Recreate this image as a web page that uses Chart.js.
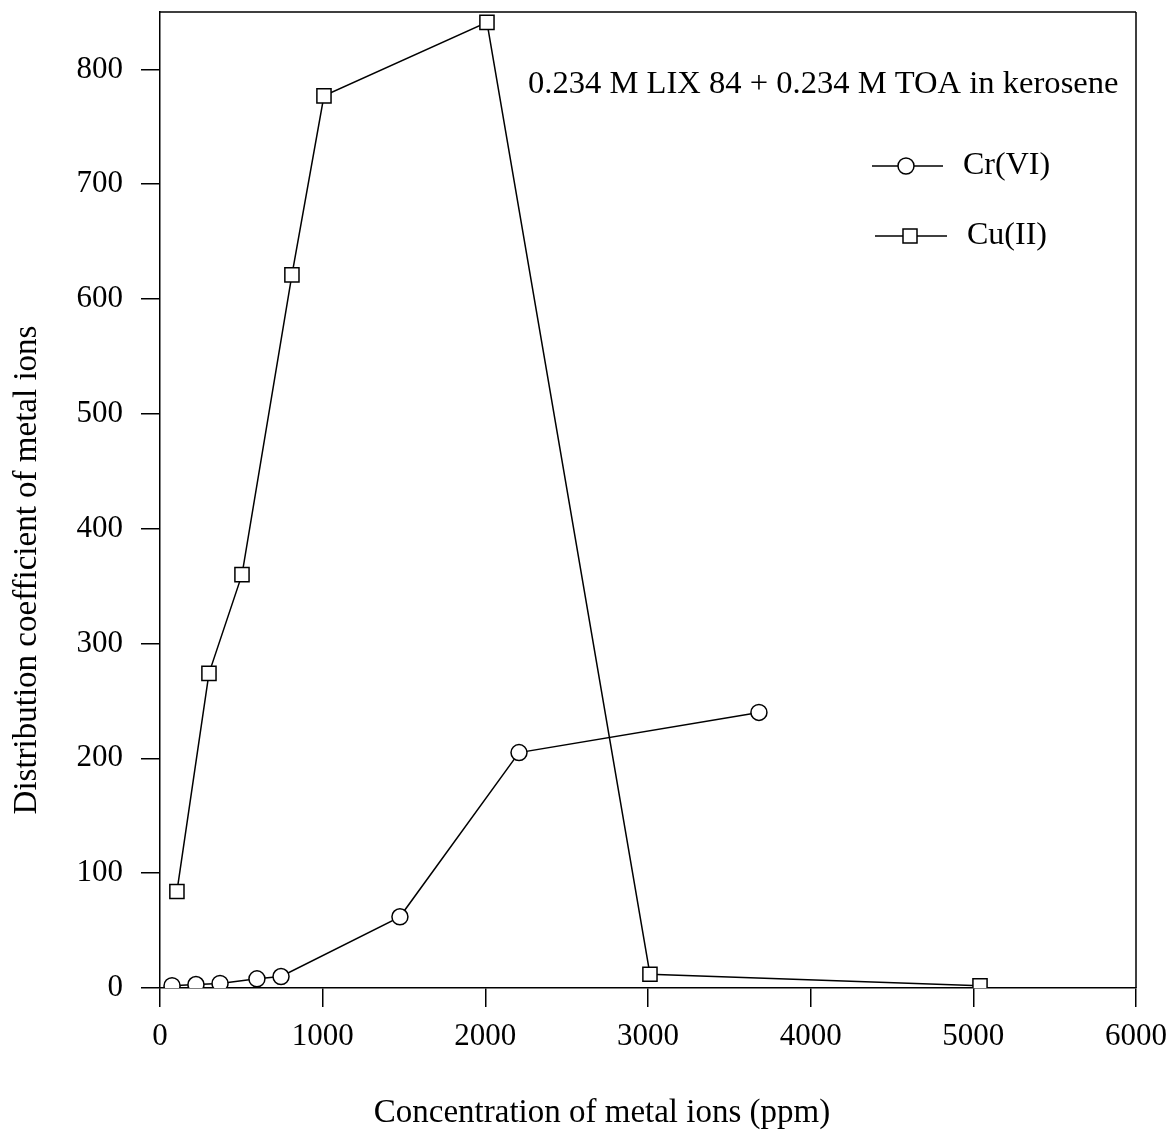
<!DOCTYPE html>
<html><head><meta charset="utf-8">
<script src="https://cdn.jsdelivr.net/npm/chart.js@4"></script>
<style>html,body{margin:0;padding:0;background:#fff}#wrap{width:1174px;height:1136px}</style>
</head><body><div id="wrap"><canvas id="c" width="1174" height="1136"></canvas></div>
<script>
// Data
const crLabel = 'Cr(VI)';
const cuLabel = 'Cu(II)';
const crX = [74, 221, 369, 596, 744, 1475, 2207, 3682];
const crY = [2, 3, 4, 8, 10, 62, 205, 240];
const cuX = [104, 301, 504, 811, 1008, 2010, 3012, 5041];
const cuY = [84, 274, 360, 621, 777, 841, 12, 2];
const xTicks = [0, 1000, 2000, 3000, 4000, 5000, 6000];
const yTicks = [0, 100, 200, 300, 400, 500, 600, 700, 800];
const xTitle = 'Concentration of metal ions (ppm)';
const yTitle = 'Distribution coefficient of metal ions';
const noteText = '0.234 M LIX 84 + 0.234 M TOA in kerosene';

const FONT = '"Liberation Serif", "Times New Roman", serif';

const decor = {
  id: 'decor',
  afterDraw(chart) {
    const ctx = chart.ctx, a = chart.chartArea;
    ctx.save();
    ctx.strokeStyle = '#000';
    ctx.lineWidth = 1.5;
    ctx.beginPath();
    ctx.moveTo(a.left, a.top); ctx.lineTo(a.right, a.top);
    ctx.moveTo(a.right, a.top); ctx.lineTo(a.right, a.bottom);
    ctx.stroke();

    ctx.fillStyle = '#000';
    ctx.font = '32.6px ' + FONT;
    ctx.textBaseline = 'middle';
    ctx.textAlign = 'left';
    ctx.fillText(noteText, 528, 84);

    // legend
    const items = [
      {label: crLabel, y: 166, x0: 872, x1: 943, mx: 906, tx: 963, shape: 'circle'},
      {label: cuLabel, y: 236, x0: 875, x1: 947, mx: 910, tx: 967, shape: 'rect'}
    ];
    ctx.font = '32px ' + FONT;
    items.forEach(it => {
      ctx.beginPath();
      ctx.moveTo(it.x0, it.y); ctx.lineTo(it.x1, it.y);
      ctx.stroke();
      ctx.beginPath();
      if (it.shape === 'circle') ctx.arc(it.mx, it.y, 8, 0, Math.PI * 2);
      else ctx.rect(it.mx - 7, it.y - 7, 14, 14);
      ctx.fillStyle = '#fff'; ctx.fill();
      ctx.stroke();
      ctx.fillStyle = '#000';
      ctx.fillText(it.label, it.tx, it.y);
    });

    // axis titles
    ctx.font = '33px ' + FONT;
    ctx.textAlign = 'center';
    ctx.fillText(xTitle, 602, 1113);
    ctx.save();
    ctx.translate(27, 570);
    ctx.rotate(-Math.PI / 2);
    ctx.fillText(yTitle, 0, 0);
    ctx.restore();
    ctx.restore();
  }
};

const lineDs = (label, xs, ys, style, r) => ({
  label,
  data: xs.map((x, i) => ({x, y: ys[i]})),
  borderColor: '#000',
  borderWidth: 1.5,
  backgroundColor: '#fff',
  pointBackgroundColor: '#fff',
  pointBorderColor: '#000',
  pointBorderWidth: 1.5,
  pointStyle: style,
  pointRadius: r,
  pointHoverRadius: r,
  tension: 0,
  fill: false
});

new Chart(document.getElementById('c'), {
  type: 'line',
  data: {
    datasets: [
      lineDs(cuLabel, cuX, cuY, 'rect', 10),
      lineDs(crLabel, crX, crY, 'circle', 8)
    ]
  },
  options: {
    responsive: false,
    animation: false,
    layout: {padding: {top: 12, right: 38, left: 0, bottom: 0}},
    plugins: {legend: {display: false}, tooltip: {enabled: false}},
    scales: {
      x: {
        type: 'linear', min: 0, max: 6000,
        afterBuildTicks: s => { s.ticks = xTicks.map(v => ({value: v})); },
        afterFit: s => { s.height = 148; s.paddingLeft = 0; s.paddingRight = 0; },
        grid: {display: true, drawOnChartArea: false, drawTicks: true, tickLength: 19, color: '#000', lineWidth: 1.5},
        border: {display: true, color: '#000', width: 1.5},
        ticks: {color: '#000', font: {family: FONT, size: 31}, padding: 11, maxRotation: 0, autoSkip: false,
                callback: v => String(v)}
      },
      y: {
        type: 'linear', min: 0, max: 850,
        afterBuildTicks: s => { s.ticks = yTicks.map(v => ({value: v})); },
        afterFit: s => { s.width = 160; s.paddingTop = 0; s.paddingBottom = 0; },
        grid: {display: true, drawOnChartArea: false, drawTicks: true, tickLength: 19, color: '#000', lineWidth: 1.5},
        border: {display: true, color: '#000', width: 1.5},
        ticks: {color: '#000', font: {family: FONT, size: 31}, padding: 18, autoSkip: false,
                callback: v => String(v)}
      }
    }
  },
  plugins: [decor]
});
</script>
</body></html>
